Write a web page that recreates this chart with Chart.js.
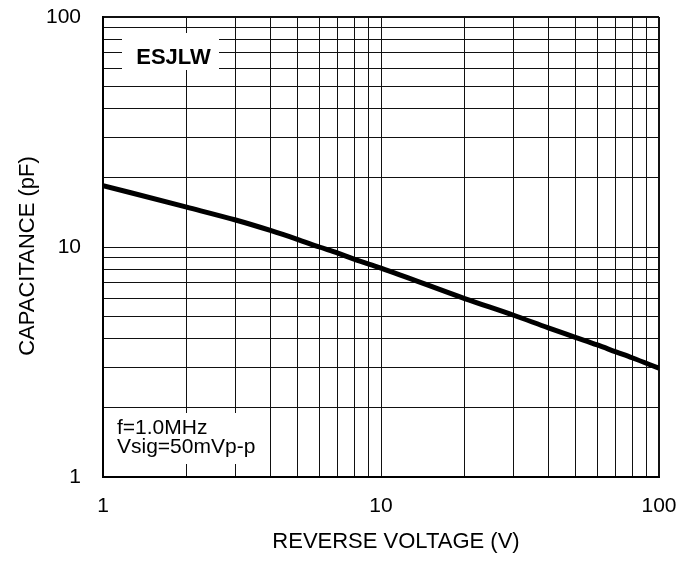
<!DOCTYPE html>
<html>
<head>
<meta charset="utf-8">
<script src="https://cdn.jsdelivr.net/npm/chart.js@4.4.1/dist/chart.umd.min.js"></script>
<style>
  html, body { margin: 0; padding: 0; background: #fff; }
</style>
</head>
<body>
<canvas id="myChart" width="679" height="562"></canvas>
<script>
// data
const voltage = [1, 2, 3, 4, 5, 6, 7, 8, 10, 20, 30, 40, 50, 60, 70, 80, 100];
const capacitance = [18.5, 14.9, 13.1, 11.8, 10.8, 10.0, 9.4, 8.85, 8.1, 5.97, 5.05, 4.45, 4.05, 3.75, 3.5, 3.3, 2.97];

// grid lines at every 1..9 of each decade, labels only on decades
const gridValues = [1, 2, 3, 4, 5, 6, 7, 8, 9, 10, 20, 30, 40, 50, 60, 70, 80, 90, 100];
const tickLabels = [1, 10, 100];

const xTitle = 'REVERSE VOLTAGE (V)';
const yTitle = 'CAPACITANCE (pF)';
const partName = 'ESJLW';
const conditions = ['f=1.0MHz', 'Vsig=50mVp-p'];

const FONT = "'Liberation Sans', Arial, Helvetica, sans-serif";

const points = voltage.map((v, i) => ({ x: v, y: capacitance[i] }));

const gridWidth = (c) => (c.tick && c.tick.value === 100 ? 2 : 1);

// keep the plot box where the layout padding puts it
const noOverflow = (s) => {
  s.paddingTop = 0; s.paddingBottom = 0; s.paddingLeft = 0; s.paddingRight = 0;
};

// white label boxes over the grid + axis titles (they sit a bit off-centre in the original)
const notes = {
  id: 'notes',
  beforeDatasetsDraw(chart) {
    const ctx = chart.ctx;
    const a = chart.chartArea;
    ctx.save();
    ctx.fillStyle = '#fff';
    ctx.fillRect(a.left + 19, a.top + 16, 97, 37);
    ctx.fillRect(a.left + 7, a.bottom - 64, 156, 51);

    ctx.fillStyle = '#000';
    ctx.font = 'bold 22px ' + FONT;
    ctx.textAlign = 'center';
    ctx.textBaseline = 'alphabetic';
    ctx.fillText(partName, a.left + 70.5, a.top + 47);

    ctx.font = '21px ' + FONT;
    ctx.textAlign = 'left';
    ctx.fillText(conditions[0], a.left + 14, a.bottom - 43);
    ctx.fillText(conditions[1], a.left + 14, a.bottom - 24);
    ctx.restore();
  },
  afterDraw(chart) {
    const ctx = chart.ctx;
    const a = chart.chartArea;
    ctx.save();
    ctx.fillStyle = '#000';
    ctx.font = '22px ' + FONT;
    ctx.textAlign = 'center';
    ctx.textBaseline = 'alphabetic';
    ctx.fillText(xTitle, (a.left + a.right) / 2 + 15, 548);

    ctx.translate(34, (a.top + a.bottom) / 2 + 9);
    ctx.rotate(-Math.PI / 2);
    ctx.fillText(yTitle, 0, 0);
    ctx.restore();
  }
};

const config = {
  type: 'line',
  data: {
    datasets: [{
      label: 'Capacitance',
      data: points,
      borderColor: '#000',
      borderWidth: 5,
      pointRadius: 0,
      tension: 0.4,
      cubicInterpolationMode: 'monotone',
      fill: false
    }]
  },
  options: {
    responsive: false,
    animation: false,
    devicePixelRatio: 1,
    layout: { padding: { top: 17, right: 20, bottom: 0, left: 0 } },
    plugins: {
      legend: { display: false },
      tooltip: { enabled: false }
    },
    scales: {
      x: {
        type: 'logarithmic',
        min: 1,
        max: 100,
        afterBuildTicks: (s) => { s.ticks = gridValues.map(v => ({ value: v })); },
        afterFit: (s) => { s.height = 85; noOverflow(s); },
        ticks: {
          autoSkip: false,
          maxRotation: 0,
          padding: 17,
          color: '#000',
          font: { family: FONT, size: 21 },
          callback: (v) => (tickLabels.includes(v) ? String(v) : '')
        },
        grid: { drawTicks: false, color: '#111', lineWidth: gridWidth },
        border: { color: '#000', width: 2 },
        title: { display: false, text: xTitle }
      },
      y: {
        type: 'logarithmic',
        min: 1,
        max: 100,
        afterBuildTicks: (s) => { s.ticks = gridValues.map(v => ({ value: v })); },
        afterFit: (s) => { s.width = 103; noOverflow(s); },
        ticks: {
          autoSkip: false,
          padding: 22,
          color: '#000',
          font: { family: FONT, size: 21 },
          callback: (v) => (tickLabels.includes(v) ? String(v) : '')
        },
        grid: { drawTicks: false, color: '#111', lineWidth: gridWidth },
        border: { color: '#000', width: 2 },
        title: { display: false, text: yTitle }
      }
    }
  },
  plugins: [notes]
};

const myChart = new Chart(document.getElementById('myChart'), config);
</script>
</body>
</html>
